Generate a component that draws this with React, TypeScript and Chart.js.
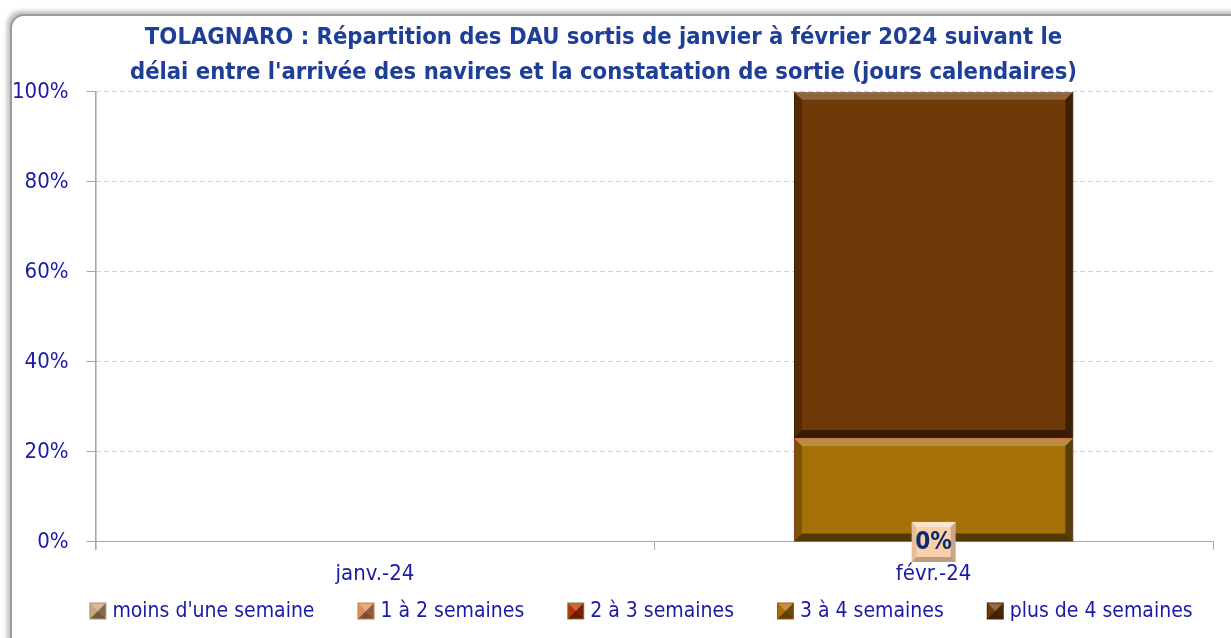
import React, { useEffect, useRef } from "react";
import { Chart, registerables } from "chart.js";

Chart.register(...registerables);

const TITLE_LINES = [
  "TOLAGNARO : Répartition des DAU sortis de janvier à février 2024 suivant le",
  "délai entre l'arrivée des navires et la constatation de sortie (jours calendaires)",
];
const CATEGORIES = ["janv.-24", "févr.-24"];
const SERIES_NAMES = ["moins d'une semaine", "1 à 2 semaines", "2 à 3 semaines", "3 à 4 semaines", "plus de 4 semaines"];
const MOINS_1 = [null, 0];
const S_1_2 = [null, null];
const S_2_3 = [null, null];
const S_3_4 = [null, 23.08];
const PLUS_4 = [null, 76.92];
const Y_TICKS = [0, 20, 40, 60, 80, 100];

const FILLS = ["#C9A57A", "#DE8E5C", "#B8320E", "#A57008", "#703A08"];
const BORDERS = ["#B89060", "#C97848", "#6E8A1E", "#C04A1A", "#4A2604"];

const FONT = "'Liberation Sans Narrow', 'DejaVu Sans Condensed', 'Open Sans', sans-serif";
const BLUE = "#1A1AA6";

function shade(ctx: CanvasRenderingContext2D, pts: number[][], color: string) {
  ctx.beginPath();
  ctx.moveTo(pts[0][0], pts[0][1]);
  for (let i = 1; i < pts.length; i++) ctx.lineTo(pts[i][0], pts[i][1]);
  ctx.closePath();
  ctx.fillStyle = color;
  ctx.fill();
}

function bevel(ctx: CanvasRenderingContext2D, l: number, t: number, r: number, b: number, d: number) {
  shade(ctx, [[l, t], [r, t], [r - d, t + d], [l + d, t + d]], "rgba(255,255,255,0.22)");
  shade(ctx, [[l, t], [l + d, t + d], [l + d, b - d], [l, b]], "rgba(0,0,0,0.25)");
  shade(ctx, [[r, t], [r, b], [r - d, b - d], [r - d, t + d]], "rgba(0,0,0,0.45)");
  shade(ctx, [[l, b], [r, b], [r - d, b - d], [l + d, b - d]], "rgba(0,0,0,0.5)");
}

const bevelPlugin = {
  id: "bevelBars",
  afterDatasetsDraw(chart: any) {
    const ctx = chart.ctx;
    ctx.save();
    chart.data.datasets.forEach((ds: any, i: number) => {
      const meta = chart.getDatasetMeta(i);
      meta.data.forEach((bar: any, j: number) => {
        const v = ds.data[j];
        if (v == null || v === 0) return;
        const { x, y, base, width } = bar.getProps(["x", "y", "base", "width"], true);
        const l = x - width / 2, r = x + width / 2;
        const t = Math.min(y, base), b = Math.max(y, base);
        bevel(ctx, l, t, r, b, 8);
      });
    });
    ctx.restore();
  },
};

const labelPlugin = {
  id: "zeroLabels",
  afterDatasetsDraw(chart: any) {
    const ctx = chart.ctx;
    ctx.save();
    chart.data.datasets.forEach((ds: any, i: number) => {
      if (!ds.showLabel) return;
      const meta = chart.getDatasetMeta(i);
      meta.data.forEach((bar: any, j: number) => {
        const v = ds.data[j];
        if (v == null) return;
        const { x, y, base } = bar.getProps(["x", "y", "base"], true);
        const cy = (y + base) / 2;
        const w = 44, h = 40;
        const l = x - w / 2, t = cy - h / 2;
        ctx.fillStyle = "#FAD0A8";
        ctx.fillRect(l, t, w, h);
        shade(ctx, [[l, t], [l + w, t], [l + w - 5, t + 5], [l + 5, t + 5]], "rgba(255,255,255,0.45)");
        shade(ctx, [[l, t], [l + 5, t + 5], [l + 5, t + h - 5], [l, t + h]], "rgba(0,0,0,0.08)");
        shade(ctx, [[l + w, t], [l + w, t + h], [l + w - 5, t + h - 5], [l + w - 5, t + 5]], "rgba(0,0,0,0.2)");
        shade(ctx, [[l, t + h], [l + w, t + h], [l + w - 5, t + h - 5], [l + 5, t + h - 5]], "rgba(0,0,0,0.25)");
        ctx.fillStyle = "#0F2A6E";
        ctx.font = `bold 24px ${FONT}`;
        ctx.textAlign = "center";
        ctx.textBaseline = "middle";
        ctx.fillText(`${Math.round(v)}%`, x, cy + 1);
      });
    });
    ctx.restore();
  },
};

function drawLegendBox(ctx: CanvasRenderingContext2D, x: number, y: number, s: number, fill: string, border: string) {
  ctx.fillStyle = border;
  ctx.fillRect(x, y, s, s);
  ctx.fillStyle = fill;
  ctx.fillRect(x + 1, y + 1, s - 2, s - 2);
  const c = s / 2;
  shade(ctx, [[x + 1, y + 1], [x + s - 1, y + 1], [x + c, y + c]], "rgba(255,255,255,0.25)");
  shade(ctx, [[x + s - 1, y + 1], [x + s - 1, y + s - 1], [x + c, y + c]], "rgba(0,0,0,0.35)");
  shade(ctx, [[x + 1, y + s - 1], [x + s - 1, y + s - 1], [x + c, y + c]], "rgba(0,0,0,0.45)");
}

const legendPlugin = {
  id: "customLegend",
  afterDraw(chart: any) {
    const ctx = chart.ctx;
    ctx.save();
    ctx.font = `21px ${FONT}`;
    const box = 17, boxGap = 6, itemGap = 43;
    const widths = chart.data.datasets.map((ds: any) => ctx.measureText(ds.label).width);
    const total = widths.reduce((a: number, w: number) => a + box + boxGap + w, 0) + itemGap * (widths.length - 1);
    let x = 641 - total / 2;
    const cy = 611;
    ctx.textBaseline = "middle";
    ctx.textAlign = "left";
    chart.data.datasets.forEach((ds: any, i: number) => {
      drawLegendBox(ctx, x, cy - box / 2, box, FILLS[i], BORDERS[i]);
      x += box + boxGap;
      ctx.fillStyle = BLUE;
      ctx.fillText(ds.label, x, cy + 1);
      x += widths[i] + itemGap;
    });
    ctx.restore();
  },
};

export default function App() {
  const ref = useRef<HTMLCanvasElement>(null);
  useEffect(() => {
    document.body.style.margin = "0";
    document.body.style.overflow = "hidden";
    const series = [MOINS_1, S_1_2, S_2_3, S_3_4, PLUS_4];
    const chart = new Chart(ref.current!, {
      type: "bar",
      data: {
        labels: CATEGORIES,
        datasets: series.map((d, i) => ({
          label: SERIES_NAMES[i],
          data: d,
          backgroundColor: FILLS[i],
          borderColor: BORDERS[i],
          borderWidth: 1,
          barPercentage: 0.5,
          categoryPercentage: 1,
          showLabel: i === 0,
        })) as any,
      },
      options: {
        animation: false,
        responsive: false,
        maintainAspectRatio: false,
        layout: { padding: { left: -6, right: 18, top: 20, bottom: 39 } },
        plugins: {
          title: {
            display: true,
            text: TITLE_LINES,
            color: "#1F3E96",
            font: { family: FONT, size: 23.6, weight: "bold", lineHeight: 1.48 },
            padding: { top: 0, bottom: 2 },
          },
          legend: { display: false },
          tooltip: { enabled: false },
        },
        scales: {
          x: {
            stacked: true,
            grid: { display: true, drawOnChartArea: false, offset: true, color: "#A6A6A6", tickLength: 8 },
            border: { color: "#A6A6A6" },
            ticks: { color: BLUE, font: { family: FONT, size: 22, lineHeight: 1.05 }, padding: 13 },
          },
          y: {
            stacked: true,
            min: 0,
            max: 100,
            afterBuildTicks: (s: any) => {
              s.ticks = Y_TICKS.map((v) => ({ value: v }));
            },
            grid: {
              color: "#D3D3D3",
              tickColor: "#A6A6A6",
              tickLength: 9,
              tickBorderDash: [],
            },
            border: { color: "#A6A6A6", dash: [5, 3] },
            ticks: {
              color: BLUE,
              font: { family: FONT, size: 22 },
              padding: 18,
              callback: (v: any) => `${v}%`,
            },
          },
        },
      },
      plugins: [
        bevelPlugin,
        labelPlugin,
        legendPlugin,
        {
          id: "solidAxis",
          afterDraw(c: any) {
            const { ctx, chartArea } = c;
            ctx.save();
            ctx.strokeStyle = "#A6A6A6";
            ctx.lineWidth = 1;
            ctx.setLineDash([]);
            ctx.beginPath();
            ctx.moveTo(chartArea.left + 0.5, chartArea.top);
            ctx.lineTo(chartArea.left + 0.5, chartArea.bottom + 8);
            ctx.stroke();
            ctx.restore();
          },
        },
      ],
    } as any);
    return () => chart.destroy();
  }, []);
  return (
    <div style={{ position: "relative", width: 1231, height: 638, overflow: "hidden", background: "#fff" }}>
      <div
        style={{
          position: "absolute",
          left: 10,
          top: 14,
          width: 1240,
          height: 650,
          border: "2px solid #9A9A9A",
          borderRadius: 14,
          boxShadow: "-3px -3px 4px rgba(0,0,0,0.25)",
          background: "#fff",
        }}
      />
      <canvas ref={ref} width={1231} height={638} style={{ position: "absolute", left: 0, top: 0 }} />
    </div>
  );
}
